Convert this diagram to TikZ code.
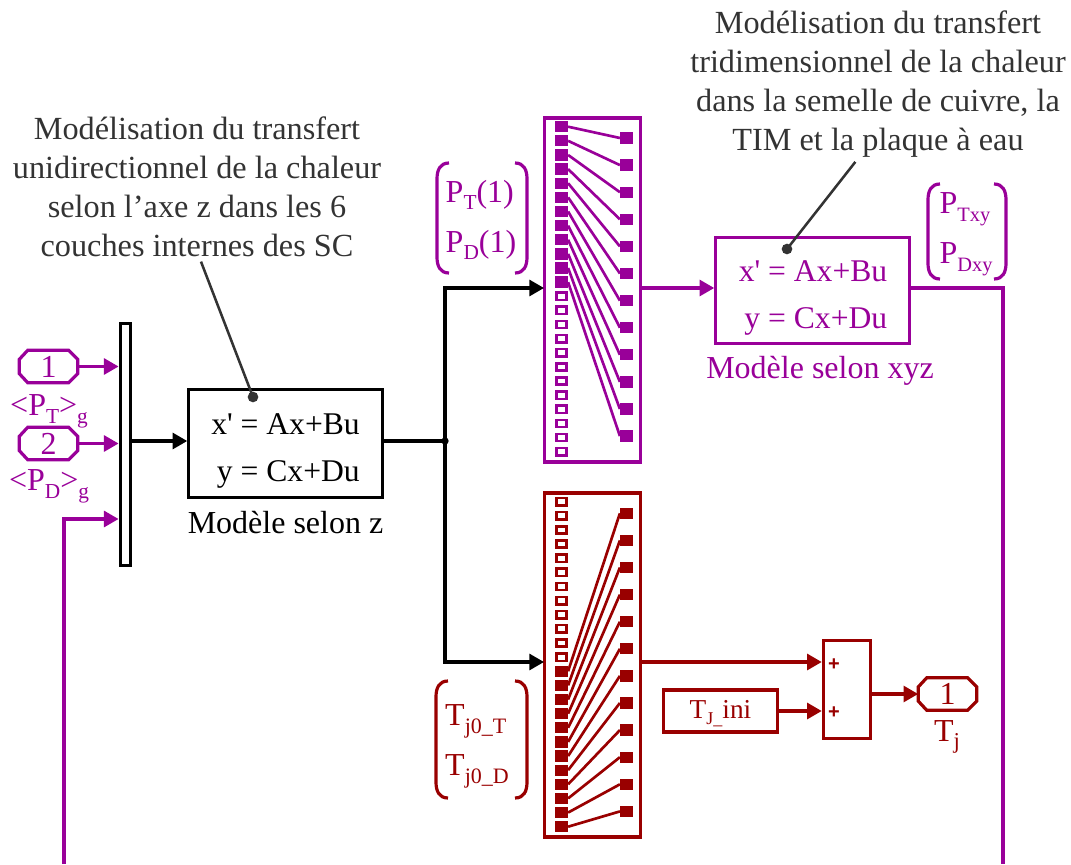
\documentclass[tikz,border=0pt]{standalone}
\usepackage{fontspec}
\setmainfont{Liberation Serif}
\newfontfamily\plusfont{Liberation Sans}
\usetikzlibrary{arrows.meta}
\definecolor{simpurple}{HTML}{990099}
\definecolor{simred}{HTML}{990000}
\definecolor{notegray}{HTML}{333333}
% subscripts set lower than the usual ones
\newcommand{\lowsub}[2][16]{\raisebox{-5.8pt}{\fontsize{#1}{#1}\selectfont #2}}
% one pair of round brackets: xleft, xright, ytop, ybottom, colour
\newcommand{\bracketpair}[5]{
  \draw[line width=2.4pt, #5] (#1+12, #3) .. controls (#1+3, #3) and (#1, #3+7) .. (#1, #3+16)
    -- (#1, #4-16) .. controls (#1, #4-7) and (#1+3, #4) .. (#1+12, #4);
  \draw[line width=2.4pt, #5] (#2-12, #3) .. controls (#2-3, #3) and (#2, #3+7) .. (#2, #3+16)
    -- (#2, #4-16) .. controls (#2, #4-7) and (#2-3, #4) .. (#2-12, #4);
}
% cut corners round a port node: node name, colour
\newcommand{\portoutline}[2]{
  \draw[line width=2.4pt, #2] ([xshift=6.5pt]#1.north west) -- ([xshift=-7pt]#1.north east)
    -- ([yshift=-7pt]#1.north east) -- ([yshift=7pt]#1.south east) -- ([xshift=-7pt]#1.south east)
    -- ([xshift=6.5pt]#1.south west) -- ([yshift=7pt]#1.south west) -- ([yshift=-7pt]#1.north west) -- cycle;
}
\begin{document}
\begin{tikzpicture}[x=0.75pt, y=-0.75pt, >={Triangle[length=11pt, width=12pt]},
  every node/.style={font=\fontsize{24}{29.2}\selectfont},
  conn/.style={line width=2.3pt, ->},
  wire/.style={line width=2.3pt},
  block/.style={draw, line width=2.4pt, inner sep=0pt},
  statebox/.style={block, minimum width=145pt, minimum height=81pt},
  statetext/.style={align=right, font=\fontsize{23.7}{34.8}\selectfont},
  port/.style={text=#1, minimum width=44pt, minimum height=24.5pt, inner sep=0pt, outer sep=0pt},
  sqfull/.style={fill=#1, inner sep=0pt, minimum width=9.5pt, minimum height=8.5pt},
  sqopen/.style={draw=#1, line width=1.9pt, fill=white, inner sep=0pt, minimum width=7.5pt, minimum height=5.5pt},
  note/.style={text=notegray, align=center, font=\fontsize{24.2}{29.2}\selectfont},
  annot/.style={notegray, line width=1.9pt},
  vec/.style={align=left, font=\fontsize{24}{37.5}\selectfont}]

  \useasboundingbox (0,0) rectangle (1071,864);

  % 1. textes explicatifs
  \node[note] (notez) at (197,187) {Modélisation du transfert\\unidirectionnel de la chaleur\\selon l’axe z dans les 6\\couches internes des SC};
  \node[note] (notexyz) at (878,84) {Modélisation du transfert\\tridimensionnel de la chaleur\\dans la semelle de cuivre, la\\TIM et la plaque à eau};

  % 2. blocs d'état
  \node[statebox] (blockz) at (285.5,443.5) {};
  \node[statetext] (eqz) at (285.5,451) {x\textquotesingle{} = Ax+Bu\\y = Cx+Du};
  \node[statebox, simpurple, minimum height=79pt] (blockxyz) at (812.5,290.5) {};
  \node[statetext, text=simpurple] (eqxyz) at (813,298) {x\textquotesingle{} = Ax+Bu\\y = Cx+Du};
  \node (labelz) at (285.5,523) {Modèle selon z};
  \node[text=simpurple] (labelxyz) at (820,371) {Modèle selon xyz};

  % 3. entrées et multiplexeur
  \node[block, minimum width=8pt, minimum height=181pt] (mux) at (125.5,444.5) {};
  \node[port=simpurple] (inone) at (48.5,366.5) {1};
  \node[port=simpurple] (intwo) at (48.5,443.5) {2};
  \portoutline{inone}{simpurple}
  \portoutline{intwo}{simpurple}
  \node[text=simpurple] (labelone) at (49,411) {<P\lowsub{T}>\lowsub{g}};
  \node[text=simpurple] (labeltwo) at (49,486) {<P\lowsub{D}>\lowsub{g}};
  \coordinate (jct) at (445,441);
  \coordinate (back) at (64,519);
  \coordinate (botleft) at (64,864);
  \draw[conn, simpurple] (inone.east) -- (mux.west |- inone.east);
  \draw[conn, simpurple] (intwo.east) -- (mux.west |- intwo.east);
  \draw[conn, simpurple] (botleft) -- (back) -- (mux.west |- back);
  \draw[conn] (mux.east |- jct) -- (blockz.west |- jct);

  % 4. démultiplexeur du haut
  \node[block, simpurple, minimum width=72pt, minimum height=258pt] (demuxp) at (592.5,290) {};
  \foreach \i [evaluate=\i as \yl using 126.7+(\i-1)*14.13] in {1,...,12}
    \node[sqfull=simpurple] (pl\i) at (561.5,\yl) {};
  \foreach \i [evaluate=\i as \yl using 126.7+(\i-1)*14.13] in {13,...,24}
    \node[sqopen=simpurple] (pl\i) at (561.5,\yl) {};
  \foreach \i [evaluate=\i as \yr using 138+(\i-1)*27.1] in {1,...,12}{
    \node[sqfull=simpurple] (pr\i) at (626.5,\yr) {};
    \draw[simpurple, line width=2pt] (pl\i.east) -- (pr\i.west);
  }

  % 5. démultiplexeur du bas
  \node[block, simred, minimum width=72pt, minimum height=258pt] (demuxt) at (592.5,665) {};
  \foreach \i [evaluate=\i as \yl using 501.7+(\i-1)*14.13] in {1,...,12}
    \node[sqopen=simred] (tl\i) at (561.5,\yl) {};
  \foreach \i [evaluate=\i as \yl using 501.7+(\i-1)*14.13] in {13,...,24}
    \node[sqfull=simred] (tl\i) at (561.5,\yl) {};
  \foreach \i [evaluate=\i as \yr using 513.3+(\i-1)*27.1, evaluate=\i as \j using int(\i+12)] in {1,...,12}{
    \node[sqfull=simred] (tr\i) at (626.5,\yr) {};
    \draw[simred, line width=2pt] (tl\j.east) -- (tr\i.west);
  }

  % 6. liaisons noires
  \node[circle, fill, inner sep=0pt, minimum size=5.5pt] (jctdot) at (jct) {};
  \coordinate (intop) at (544,288);
  \coordinate (inbot) at (544,662);
  \draw[wire] (blockz.east |- jct) -- (jctdot.center);
  \draw[conn] (jctdot.center) |- (intop);
  \draw[conn] (jctdot.center) |- (inbot);

  % 7. sortie du haut
  \coordinate (topout) at (1003,288);
  \coordinate (botright) at (1003,864);
  \draw[conn, simpurple] (demuxp.east |- intop) -- (blockxyz.west |- intop);
  \draw[wire, simpurple] (blockxyz.east |- topout) -- (topout) -- (botright);

  % 8. somme et sortie du bas
  \node[block, simred, minimum width=35.5pt, minimum height=73pt] (sumblock) at (847,689.5) {};
  \node[block, simred, minimum width=85pt, minimum height=31.5pt] (tini) at (720.5,711) {};
  \node[text=simred, font=\fontsize{20.5}{22}\selectfont] (tinitext) at (720.5,714) {T\raisebox{-4.5pt}{\fontsize{13.5}{13.5}\selectfont J\_}ini};
  \node[port=simred] (outone) at (947.5,694) {1};
  \portoutline{outone}{simred}
  \node[text=simred] (labelout) at (947,737) {T\lowsub[17]{j}};
  \node[text=simred, font=\plusfont\bfseries\fontsize{15}{15}\selectfont] (plusone) at (834,665) {+};
  \node[text=simred, font=\plusfont\bfseries\fontsize{15}{15}\selectfont] (plustwo) at (834,713) {+};
  \draw[conn, simred] (demuxt.east |- inbot) -- (sumblock.west |- inbot);
  \draw[conn, simred] (tini.east) -- (sumblock.west |- tini.east);
  \draw[conn, simred] (sumblock.east |- outone.west) -- (outone.west);

  % 9. vecteurs entre crochets
  \bracketpair{437}{527}{163}{273}{simpurple}
  \node[vec, text=simpurple] (veck) at (481,220) {P\lowsub{T}(1)\\P\lowsub{D}(1)};
  \bracketpair{928}{1006}{184}{279}{simpurple}
  \node[vec, text=simpurple] (vecxy) at (966,234) {P\lowsub[15.3]{Txy}\\P\lowsub[15.3]{Dxy}};
  \bracketpair{436}{527}{681}{798}{simred}
  \node[vec, text=simred] (vecj) at (477,746) {T\lowsub[16.5]{j0\_T}\\T\lowsub[16.5]{j0\_D}};

  % 10. traits de renvoi
  \node[circle, fill=notegray, inner sep=0pt, minimum size=8pt] (dotz) at (253,397) {};
  \node[circle, fill=notegray, inner sep=0pt, minimum size=8pt] (dotxyz) at (787,249) {};
  \draw[annot] ([xshift=3pt]notez.south) -- (dotz.center);
  \draw[annot] ([xshift=-17pt]notexyz.south) -- (dotxyz.center);

\end{tikzpicture}
\end{document}
